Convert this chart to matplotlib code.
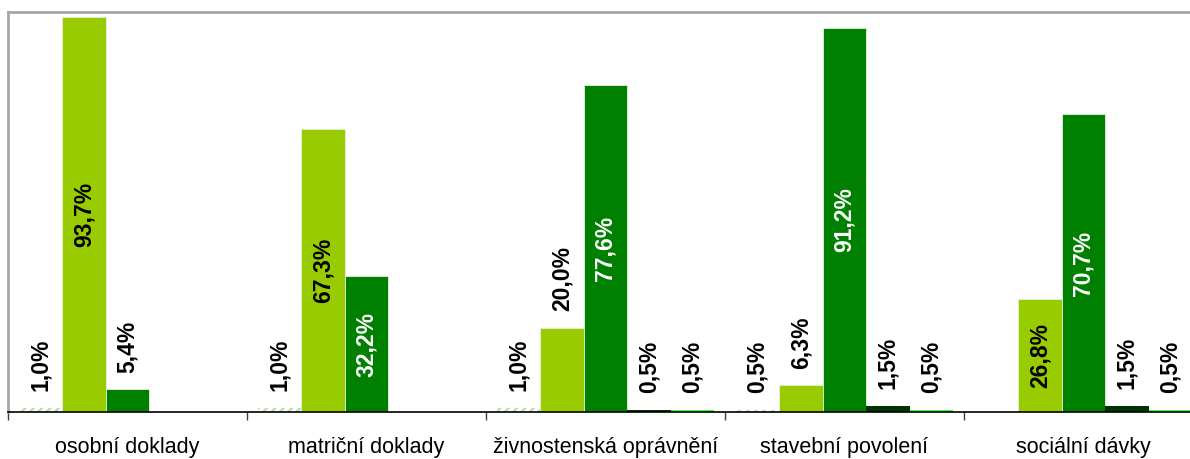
import numpy as np
from matplotlib import pyplot as plt
from matplotlib.transforms import blended_transform_factory

plt.rcParams['font.family'] = ['Liberation Sans', 'DejaVu Sans']
plt.rcParams['hatch.linewidth'] = 1.6

# categories and the five series (share in %)
categories = ["osobní doklady", "matriční doklady", "živnostenská oprávnění",
              "stavební povolení", "sociální dávky"]
serie_1 = [1.0, 1.0, 1.0, 0.5, np.nan]
serie_2 = [93.7, 67.3, 20.0, 6.3, 26.8]
serie_3 = [5.4, 32.2, 77.6, 91.2, 70.7]
serie_4 = [np.nan, np.nan, 0.5, 1.5, 1.5]
serie_5 = [np.nan, np.nan, 0.5, 0.5, 0.5]

series = [serie_1, serie_2, serie_3, serie_4, serie_5]
colors = ["white", "#99cc00", "#008000", "#003300", "#33ff33"]
inner_text = ["black", "black", "white", "white", "black"]

fig = plt.figure(figsize=(11.9, 4.59), dpi=100)
ax = fig.add_axes([8 / 1190, 47 / 459, 5 * 239 / 1190, 400 / 459])

x = np.arange(len(categories)) + 0.5
width = 0.182

for i, values in enumerate(series):
	pos = x + (i - 2) * width
	vals = np.array(values, dtype=float)
	if i == 0:
		# first series : hatched pale bars
		ax.bar(pos, vals, width, color="white", edgecolor="#b8dca8", hatch="////", linewidth=0)
	elif i in (1, 2):
		ax.bar(pos, vals, width, color=colors[i], edgecolor="#e6f2dc", linewidth=0.6)
	else:
		ax.bar(pos, vals, width, color=colors[i], linewidth=0)

	for p, v in zip(pos, vals):
		if np.isnan(v):
			continue
		txt = f"{v:.1f}%".replace(".", ",")
		if v > 25:
			ax.text(p, v / 2, txt, rotation=90, ha="center", va="center",
					fontsize=16.5, fontweight="bold", color=inner_text[i])
		else:
			ax.annotate(txt, (p, v), xytext=(0, 12), textcoords="offset points",
						rotation=90, ha="center", va="bottom",
						fontsize=16.5, fontweight="bold", color="black")

ax.set_xlim(0, len(categories))
ax.set_ylim(0, 95)

# category names under the axis
trans = blended_transform_factory(ax.transData, fig.transFigure)
for c, name in zip(x, categories):
	ax.text(c, 5.5 / 459, name, transform=trans, ha="center", va="baseline", fontsize=15.5)

ax.set_xticks(np.arange(len(categories) + 1))
ax.set_xticklabels([])
ax.tick_params(axis="x", direction="out", length=6, width=1, color="#404040")
ax.set_yticks([])

ax.spines["right"].set_visible(False)
ax.spines["left"].set_color("#a6a6a6")
ax.spines["left"].set_linewidth(2)
ax.spines["top"].set_color("#a6a6a6")
ax.spines["top"].set_linewidth(2)
ax.spines["bottom"].set_color("black")
ax.spines["bottom"].set_linewidth(1.2)

fig.savefig("out.png", dpi=100)
